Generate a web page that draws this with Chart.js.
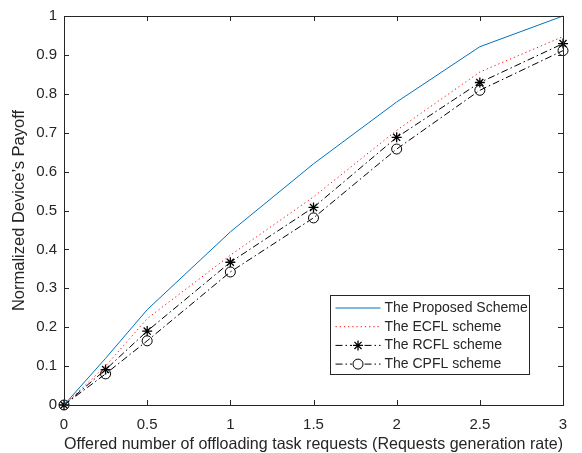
<!DOCTYPE html>
<html>
<head>
<meta charset="utf-8">
<script src="https://cdn.jsdelivr.net/npm/chart.js@4.4.1/dist/chart.umd.min.js"></script>
<style>
  html, body { margin: 0; padding: 0; background: #fff; }
  #wrap { width: 582px; height: 453px; }
</style>
</head>
<body>
<div id="wrap"><canvas id="payoff_chart" width="582" height="453"></canvas></div>
<script>
// offered number of offloading task requests
const offered_rate = [0, 0.25, 0.5, 1, 1.5, 2, 2.5, 3];
const proposed_payoff = [0, 0.12, 0.245, 0.445, 0.62, 0.779, 0.921, 1.0];
const ecfl_payoff = [0, 0.1, 0.222, 0.385, 0.535, 0.706, 0.856, 0.947];
const rcfl_payoff = [0, 0.091, 0.19, 0.367, 0.508, 0.688, 0.829, 0.929];
const cpfl_payoff = [0, 0.08, 0.165, 0.342, 0.481, 0.658, 0.809, 0.911];

const legend_labels = ['The Proposed Scheme', 'The ECFL scheme', 'The RCFL scheme', 'The CPFL scheme'];
const x_ticks = [0, 0.5, 1, 1.5, 2, 2.5, 3];
const y_ticks = [0, 0.1, 0.2, 0.3, 0.4, 0.5, 0.6, 0.7, 0.8, 0.9, 1];

const axis_color = '#262626';
const font_family = '"Liberation Sans", Arial, Helvetica, sans-serif';

function toPoints(ys) {
    return offered_rate.map((x, i) => ({ x: x, y: ys[i] }));
}

const dataset_styles = [
    { borderColor: '#0072BD', borderDash: [], pointStyle: false },
    { borderColor: '#FF0000', borderDash: [1.2, 3], pointStyle: false },
    { borderColor: '#000000', borderDash: [7, 3, 1.5, 3], pointStyle: 'star' },
    { borderColor: '#000000', borderDash: [7, 3, 1.5, 3], pointStyle: 'circle' }
];

const data_payoff = {
    datasets: [proposed_payoff, ecfl_payoff, rcfl_payoff, cpfl_payoff].map((ys, i) => ({
        label: legend_labels[i],
        data: toPoints(ys),
        borderColor: dataset_styles[i].borderColor,
        borderDash: dataset_styles[i].borderDash,
        borderWidth: 1,
        pointStyle: dataset_styles[i].pointStyle,
        pointRadius: dataset_styles[i].pointStyle ? 5 : 0,
        pointBorderColor: '#000000',
        pointBackgroundColor: 'rgba(0,0,0,0)',
        pointBorderWidth: dataset_styles[i].pointStyle === 'star' ? 1.3 : 1,
        tension: 0,
        clip: false
    }))
};

// matlab-like box, inward ticks and the legend inside the axes
const matlab_box = {
    id: 'matlab_box',
    afterDatasetsDraw(chart) {
        const ctx = chart.ctx;
        const a = chart.chartArea;
        const xs = chart.scales.x;
        const ys = chart.scales.y;
        ctx.save();
        ctx.strokeStyle = axis_color;
        ctx.lineWidth = 1;
        ctx.setLineDash([]);
        ctx.beginPath();
        x_ticks.forEach(v => {
            const px = Math.round(xs.getPixelForValue(v)) + 0.5;
            ctx.moveTo(px, a.bottom); ctx.lineTo(px, a.bottom - 5);
            ctx.moveTo(px, a.top); ctx.lineTo(px, a.top + 5);
        });
        y_ticks.forEach(v => {
            const py = Math.round(ys.getPixelForValue(v)) + 0.5;
            ctx.moveTo(a.left, py); ctx.lineTo(a.left + 5, py);
            ctx.moveTo(a.right, py); ctx.lineTo(a.right - 5, py);
        });
        ctx.stroke();
        ctx.strokeRect(Math.round(a.left) + 0.5, Math.round(a.top) + 0.5,
            Math.round(a.right - a.left), Math.round(a.bottom - a.top));

        // legend
        const w = 199, h = 79;
        const lx = Math.round(a.right - 34 - w) + 0.5;
        const ly = Math.round(a.bottom - 31 - h) + 0.5;
        ctx.fillStyle = '#ffffff';
        ctx.fillRect(lx, ly, w, h);
        ctx.strokeStyle = '#262626';
        ctx.strokeRect(lx, ly, w, h);
        ctx.font = '14px ' + font_family;
        ctx.textBaseline = 'middle';
        chart.data.datasets.forEach((ds, i) => {
            const cy = ly + 12.5 + i * 18.7;
            const x0 = lx + 5, x1 = lx + 50;
            ctx.strokeStyle = ds.borderColor;
            ctx.lineWidth = 1;
            ctx.setLineDash(ds.borderDash);
            ctx.beginPath();
            ctx.moveTo(x0, cy); ctx.lineTo(x1, cy);
            ctx.stroke();
            ctx.setLineDash([]);
            const mx = (x0 + x1) / 2;
            if (ds.pointStyle === 'star' || ds.pointStyle === 'circle') {
                ctx.fillStyle = '#ffffff';
                ctx.fillRect(mx - 6, cy - 6, 12, 12);
                ctx.strokeStyle = '#000000';
                ctx.beginPath();
                if (ds.pointStyle === 'star') {
                    ctx.lineWidth = 1.3;
                    for (let k = 0; k < 4; k++) {
                        const ang = k * Math.PI / 4;
                        ctx.moveTo(mx - 5 * Math.cos(ang), cy - 5 * Math.sin(ang));
                        ctx.lineTo(mx + 5 * Math.cos(ang), cy + 5 * Math.sin(ang));
                    }
                } else {
                    ctx.arc(mx, cy, 5, 0, Math.PI * 2);
                }
                ctx.stroke();
            }
            ctx.fillStyle = axis_color;
            ctx.textAlign = 'left';
            ctx.fillText(ds.label, lx + 54, cy);
        });
        ctx.restore();
    }
};

const config_payoff = {
    type: 'line',
    data: data_payoff,
    plugins: [matlab_box],
    options: {
        responsive: false,
        animation: false,
        layout: { padding: { top: 11, right: 19, left: 0, bottom: 0 } },
        plugins: { legend: { display: false }, tooltip: { enabled: false } },
        scales: {
            x: {
                type: 'linear',
                min: 0,
                max: 3,
                afterFit(scale) { scale.height = 48; },
                afterBuildTicks(scale) { scale.ticks = x_ticks.map(v => ({ value: v })); },
                grid: { display: false, drawTicks: false },
                border: { display: false },
                ticks: {
                    color: axis_color,
                    padding: 11,
                    font: { family: font_family, size: 15 },
                    callback: v => String(v)
                },
                title: {
                    display: true,
                    text: 'Offered number of offloading task requests (Requests generation rate)',
                    color: axis_color,
                    font: { family: font_family, size: 16.5 },
                    padding: { top: 0, bottom: -1 }
                }
            },
            y: {
                type: 'linear',
                min: 0,
                max: 1,
                afterFit(scale) { scale.width = 64; },
                afterBuildTicks(scale) { scale.ticks = y_ticks.map(v => ({ value: v })); },
                grid: { display: false, drawTicks: false },
                border: { display: false },
                ticks: {
                    color: axis_color,
                    padding: 7,
                    font: { family: font_family, size: 15 },
                    callback: v => String(Math.round(v * 10) / 10)
                },
                title: {
                    display: true,
                    text: 'Normalized Device\u2019s Payoff',
                    color: axis_color,
                    font: { family: font_family, size: 16.5 },
                    padding: { top: 10, bottom: 0 }
                }
            }
        }
    }
};

const grafico_payoff = new Chart(
    document.getElementById('payoff_chart'),
    config_payoff
);
</script>
</body>
</html>
